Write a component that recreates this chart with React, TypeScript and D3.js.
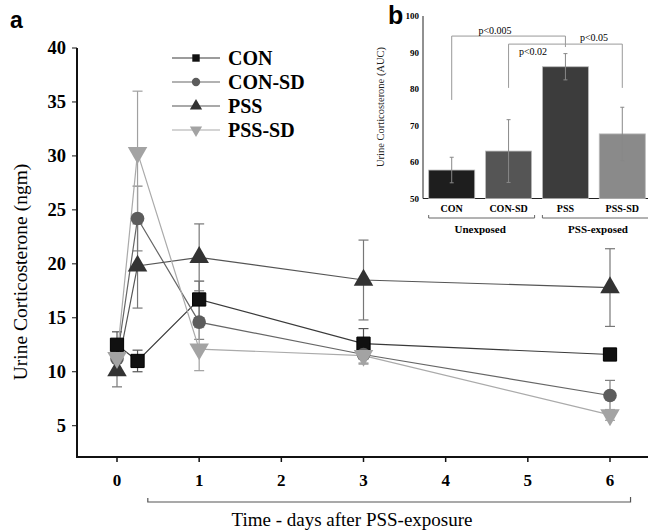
import React from "react";
import * as d3 from "d3";

const days = [0, 0.25, 1, 3, 6];
const seriesNames = ["CON", "CON-SD", "PSS", "PSS-SD"];
const conValues = [12.5, 11.0, 16.7, 12.6, 11.6];
const conSdValues = [11.2, 24.2, 14.6, 11.6, 7.8];
const pssValues = [10.1, 19.8, 20.6, 18.5, 17.8];
const pssSdValues = [11.3, 30.3, 12.1, 11.5, 6.0];
const conErr = [1.2, 1.0, 1.7, 1.4, 0.3];
const conSdErr = [0.9, 3.0, 1.6, 0.8, 1.4];
const pssErr = [1.5, 3.9, 3.1, 3.7, 3.6];
const pssSdErr = [1.0, 5.7, 2.0, 0.8, 0.5];
const yTicks = [5, 10, 15, 20, 25, 30, 35, 40];
const xTicks = [0, 1, 2, 3, 4, 5, 6];

const aucCategories = ["CON", "CON-SD", "PSS", "PSS-SD"];
const aucValues = [57.8, 63.0, 86.1, 67.7];
const aucErr = [3.5, 8.6, 3.6, 7.3];
const aucTicks = [50, 60, 70, 80, 90, 100];
const groupLabels = ["Unexposed", "PSS-exposed"];
const pLabels = ["p<0.005", "p<0.02", "p<0.05"];

const markerFill = ["#111111", "#5c5c5c", "#333333", "#a3a3a3"];
const lineColor = ["#3a3a3a", "#666666", "#555555", "#aaaaaa"];
const errColor = ["#555555", "#808080", "#777777", "#a0a0a0"];
const barFill = ["#1e1e1e", "#555555", "#3c3c3c", "#8a8a8a"];

const serif = "'Liberation Serif', 'DejaVu Serif', serif";
const sans = "'Liberation Sans', Arial, sans-serif";

export default function App() {
  const W = 648, H = 532;
  const x = d3.scaleLinear().domain([0, 6]).range([117, 610]);
  const y = d3.scaleLinear().domain([2.1, 40]).range([457, 48]);
  const values = [conValues, conSdValues, pssValues, pssSdValues];
  const errs = [conErr, conSdErr, pssErr, pssSdErr];
  const shapes = [d3.symbolSquare, d3.symbolCircle, d3.symbolTriangle, d3.symbolTriangle];
  const sizes = [175, 145, 165, 165];
  const legSizes = [55, 55, 65, 65];
  const line = d3.line<[number, number]>().x(d => x(d[0])).y(d => y(d[1]));

  // inset
  const bx = d3.scaleBand().domain(aucCategories).range([423, 651]).paddingInner(0.19).paddingOuter(0.1);
  const by = d3.scaleLinear().domain([50, 100]).range([198.5, 16]);
  const cx = (c: string) => (bx(c) as number) + bx.bandwidth() / 2;

  const sym = (i: number, s: number) => d3.symbol().type(shapes[i]).size(s)() as string;

  return (
    <svg width={W} height={H} style={{ position: "absolute", left: 0, top: 0, background: "#fff" }}>
      <rect width={W} height={H} fill="#fff" />
      <text x={10} y={28} fontFamily={sans} fontWeight="bold" fontSize={23}>a</text>

      {/* y axis */}
      <line x1={77} x2={77} y1={y(40)} y2={457} stroke="#111" strokeWidth={2} />
      {yTicks.map(t => (
        <g key={t}>
          <line x1={72} x2={77} y1={y(t)} y2={y(t)} stroke="#111" strokeWidth={1} />
          <text x={66} y={y(t)} dy="0.35em" textAnchor="end" fontFamily={serif} fontWeight="bold" fontSize={18.5}>{t}</text>
        </g>
      ))}
      <text transform={`translate(27,${272}) rotate(-90)`} textAnchor="middle" fontFamily={serif} fontSize={19.5}>Urine Corticosterone (ngm)</text>

      {/* x axis */}
      <line x1={76} x2={648} y1={457} y2={457} stroke="#111" strokeWidth={2} />
      {xTicks.map(t => (
        <g key={t}>
          <line x1={x(t)} x2={x(t)} y1={457} y2={462} stroke="#111" strokeWidth={1.5} />
          <text x={x(t)} y={486} textAnchor="middle" fontFamily={serif} fontWeight="bold" fontSize={17}>{t}</text>
        </g>
      ))}
      <path d={`M${x(0.375)},498 L${x(0.375)},502 L${x(6.25)},502 L${x(6.25)},497`} fill="none" stroke="#555" strokeWidth={1.2} />
      <text x={352} y={526} textAnchor="middle" fontFamily={serif} fontSize={19}>Time - days after PSS-exposure</text>

      {/* error bars */}
      {values.map((vals, i) => (
        <g key={"e" + i}>
          {vals.map((v, j) => (
            <g key={j} stroke={errColor[i]} strokeWidth={1.2}>
              <line x1={x(days[j])} x2={x(days[j])} y1={y(v - errs[i][j])} y2={y(v + errs[i][j])} />
              <line x1={x(days[j]) - 5} x2={x(days[j]) + 5} y1={y(v + errs[i][j])} y2={y(v + errs[i][j])} />
              <line x1={x(days[j]) - 5} x2={x(days[j]) + 5} y1={y(v - errs[i][j])} y2={y(v - errs[i][j])} />
            </g>
          ))}
        </g>
      ))}

      {/* lines */}
      {values.map((vals, i) => (
        <path key={"l" + i} d={line(vals.map((v, j) => [days[j], v]) as [number, number][]) as string}
          fill="none" stroke={lineColor[i]} strokeWidth={1.2} />
      ))}

      {/* markers */}
      {values.map((vals, i) => (
        <g key={"m" + i}>
          {vals.map((v, j) => (
            <path key={j} d={sym(i, sizes[i])}
              transform={`translate(${x(days[j])},${y(v)})${i === 3 ? " rotate(180)" : ""}`}
              fill={markerFill[i]} stroke={i === 0 ? "#000" : "none"} strokeWidth={1} />
          ))}
        </g>
      ))}

      {/* legend */}
      {seriesNames.map((n, i) => {
        const ly = 58 + i * 24;
        return (
          <g key={n}>
            <line x1={172} x2={220} y1={ly} y2={ly} stroke={lineColor[i]} strokeWidth={1.2} />
            <path d={sym(i, legSizes[i])} transform={`translate(196,${ly})${i === 3 ? " rotate(180)" : ""}`} fill={markerFill[i]} />
            <text x={228} y={ly} dy="0.35em" fontFamily={serif} fontWeight="bold" fontSize={20}>{n}</text>
          </g>
        );
      })}

      {/* inset b */}
      <text x={388} y={24} fontFamily={sans} fontWeight="bold" fontSize={25}>b</text>
      <line x1={423} x2={423} y1={16} y2={198.5} stroke="#222" strokeWidth={1} />
      <line x1={423} x2={648} y1={198.5} y2={198.5} stroke="#222" strokeWidth={1} />
      {aucTicks.map(t => (
        <text key={t} x={419} y={by(t)} dy="0.35em" textAnchor="end" fontFamily={serif} fontWeight="bold" fontSize={9}>{t}</text>
      ))}
      <text transform={`translate(384,${107}) rotate(-90)`} textAnchor="middle" fontFamily={serif} fontSize={10.5} fill="#222">Urine Corticosterone (AUC)</text>
      {aucCategories.map((c, i) => (
        <g key={c}>
          <rect x={bx(c)} y={by(aucValues[i])} width={bx.bandwidth()} height={198.5 - by(aucValues[i])}
            fill={barFill[i]} stroke="#bbb" strokeWidth={0.8} />
          <line x1={cx(c)} x2={cx(c)} y1={by(aucValues[i] - aucErr[i])} y2={by(aucValues[i] + aucErr[i])} stroke="#888" strokeWidth={1} />
          <line x1={cx(c) - 2} x2={cx(c) + 2} y1={by(aucValues[i] + aucErr[i])} y2={by(aucValues[i] + aucErr[i])} stroke="#888" strokeWidth={1} />
          <line x1={cx(c) - 2} x2={cx(c) + 2} y1={by(aucValues[i] - aucErr[i])} y2={by(aucValues[i] - aucErr[i])} stroke="#888" strokeWidth={1} />
          <text x={cx(c)} y={212} textAnchor="middle" fontFamily={serif} fontWeight="bold" fontSize={10}>{c}</text>
        </g>
      ))}
      {/* group brackets */}
      <path d={`M${bx("CON")},215 L${bx("CON")},218 L${(bx("CON-SD") as number) + bx.bandwidth() + 3},218 L${(bx("CON-SD") as number) + bx.bandwidth() + 3},215`} fill="none" stroke="#666" strokeWidth={1} />
      <path d={`M${(bx("PSS") as number)},215 L${(bx("PSS") as number)},218 L${648},218`} fill="none" stroke="#666" strokeWidth={1} />
      <text x={(bx("CON") as number + (bx("CON-SD") as number) + bx.bandwidth()) / 2} y={233} textAnchor="middle" fontFamily={serif} fontWeight="bold" fontSize={11}>{groupLabels[0]}</text>
      <text x={598} y={233} textAnchor="middle" fontFamily={serif} fontWeight="bold" fontSize={11}>{groupLabels[1]}</text>

      {/* significance brackets */}
      <g fill="none" stroke="#999" strokeWidth={1}>
        <path d={`M${cx("CON")},${by(77)} L${cx("CON")},${by(94.5)} L${cx("PSS")},${by(94.5)} L${cx("PSS")},${by(91.5)}`} />
        <path d={`M${cx("CON-SD")},${by(80.3)} L${cx("CON-SD")},${by(92.3)} L${cx("PSS")},${by(92.3)}`} />
        <path d={`M${cx("PSS")},${by(92.3)} L${cx("PSS-SD")},${by(92.3)} L${cx("PSS-SD")},${by(80.3)}`} />
      </g>
      <text x={495} y={34} textAnchor="middle" fontFamily={serif} fontSize={10}>{pLabels[0]}</text>
      <text x={533} y={55} textAnchor="middle" fontFamily={serif} fontSize={10}>{pLabels[1]}</text>
      <text x={594} y={41} textAnchor="middle" fontFamily={serif} fontSize={10}>{pLabels[2]}</text>
    </svg>
  );
}
